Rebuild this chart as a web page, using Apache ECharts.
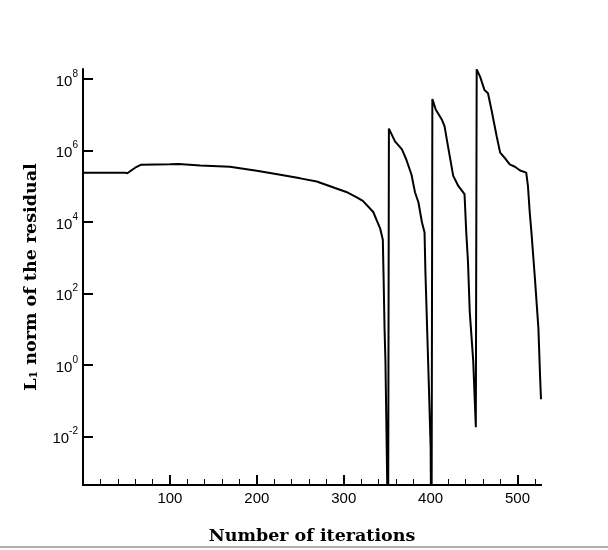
<!DOCTYPE html>
<html>
<head>
<meta charset="utf-8">
<script src="https://cdn.jsdelivr.net/npm/echarts@6/dist/echarts.min.js"></script>
<style>
html,body{margin:0;padding:0;background:#fff;}
#chart{width:608px;height:550px;}
</style>
</head>
<body>
<div id="chart"></div>
<script>
// Iteration numbers
var iterations = [1, 48, 51, 55, 60, 67, 100, 110, 135, 169, 200, 227, 250, 269, 290, 303, 315, 322, 334, 338, 342, 345, 346, 347, 348, 349, 350, 351,
  352, 359, 367, 372, 378, 382, 386, 390, 393, 394, 396, 398, 400, 401,
  402, 406, 413, 416, 420, 426, 432, 439, 441, 443, 445, 449, 452,
  453, 457, 462, 466, 470, 476, 480, 485, 491, 497, 503, 510, 512, 514, 516, 520, 524, 526, 527];
// L1 norm of the residual
var residual = [2.4e5, 2.4e5, 2.3e5, 2.7e5, 3.3e5, 4.0e5, 4.1e5, 4.2e5, 3.8e5, 3.5e5, 2.7e5, 2.1e5, 1.66e5, 1.35e5, 8.9e4, 6.9e4, 4.9e4, 3.9e4, 1.9e4, 1.1e4, 6.5e3, 3.2e3, 200, 10, 1.3, 0.03, 6e-4, 1e-6,
  4.1e6, 1.8e6, 1.07e6, 5.6e5, 2.1e5, 6.8e4, 3.5e4, 9.8e3, 5.1e3, 400, 10, 0.25, 5e-3, 1e-6,
  2.75e7, 1.38e7, 7.2e6, 4.8e6, 1.3e6, 1.95e5, 1.0e5, 6.0e4, 5.1e3, 760, 31, 1.3, 0.018,
  1.86e8, 1.15e8, 4.9e7, 4.0e7, 1.38e7, 2.5e6, 8.7e5, 6.3e5, 4.1e5, 3.5e5, 2.75e5, 2.4e5, 1.0e5, 1.9e4, 5.1e3, 263, 10.7, 0.44, 0.11];
// Tick values
var xMajorTicks = [100, 200, 300, 400, 500];
var xMinorTicks = [20, 40, 60, 80, 120, 140, 160, 180, 220, 240, 260, 280, 320, 340, 360, 380, 420, 440, 460, 480, 520];
var yTicks = [1e-2, 1e0, 1e2, 1e4, 1e6, 1e8];

var chart = echarts.init(document.getElementById('chart'), null, {renderer: 'canvas'});
var xMin = 0, xMax = 527;
var yMin = Math.pow(10, -3.36), yMax = Math.pow(10, 8.28);

function expLabel(v) {
  var e = Math.round(Math.log(v) / Math.LN10);
  return '{b|10}{sup|' + e + '}';
}

var option = {
  animation: false,
  backgroundColor: '#fff',
  grid: {left: 83, right: 67, top: 69, bottom: 62, containLabel: false},
  xAxis: [{
    type: 'value', min: xMin, max: xMax, position: 'bottom',
    splitLine: {show: false},
    axisLine: {show: true, lineStyle: {color: '#000', width: 2}},
    axisTick: {show: true, inside: true, length: 6, customValues: xMinorTicks, lineStyle: {color: '#000', width: 1}},
    axisLabel: {show: false}
  }, {
    type: 'value', min: xMin, max: xMax, position: 'bottom', offset: 0,
    splitLine: {show: false},
    axisLine: {show: true, lineStyle: {color: '#000', width: 2}},
    axisTick: {show: true, inside: true, length: 10, customValues: xMajorTicks, lineStyle: {color: '#000', width: 2}},
    axisLabel: {show: true, customValues: xMajorTicks, color: '#000', fontSize: 15, fontFamily: 'Liberation Sans, Arial, sans-serif', margin: 6},
    name: 'Number of iterations', nameLocation: 'middle', nameGap: 42,
    nameTextStyle: {color: '#000', fontFamily: 'DejaVu Serif', fontWeight: 'bold', fontSize: 17.5}
  }],
  yAxis: {
    type: 'log', logBase: 10, min: yMin, max: yMax,
    splitLine: {show: false},
    axisLine: {show: true, lineStyle: {color: '#000', width: 2}},
    axisTick: {show: true, inside: true, length: 10, customValues: yTicks, lineStyle: {color: '#000', width: 2}},
    minorTick: {show: false},
    axisLabel: {
      show: true, customValues: yTicks, margin: 5, formatter: expLabel,
      rich: {
        b: {fontSize: 15, fontFamily: 'Liberation Sans, Arial, sans-serif', color: '#000', lineHeight: 20, verticalAlign: 'bottom'},
        sup: {fontSize: 10, fontFamily: 'Liberation Sans, Arial, sans-serif', color: '#000', lineHeight: 10, verticalAlign: 'top'}
      }
    },
    name: 'L{sub|1} norm of the residual', nameLocation: 'middle', nameGap: 43, nameRotate: 90,
    nameTextStyle: {
      color: '#000', fontFamily: 'DejaVu Serif', fontWeight: 'bold', fontSize: 17.5,
      rich: {
        sub: {fontSize: 11, fontFamily: 'DejaVu Serif', fontWeight: 'bold', color: '#000', verticalAlign: 'bottom', lineHeight: 10}
      }
    }
  },
  series: [{
    type: 'line', xAxisIndex: 1,
    data: iterations.map(function (x, i) { return [x, residual[i]]; }),
    showSymbol: false, symbol: 'none', clip: true, smooth: false,
    lineStyle: {color: '#000', width: 2}
  }],
  graphic: [{
    type: 'rect', left: 0, top: 546, shape: {x: 0, y: 0, width: 608, height: 2},
    style: {fill: '#b0b0b0'}, silent: true
  }]
};
chart.setOption(option);
</script>
</body>
</html>
